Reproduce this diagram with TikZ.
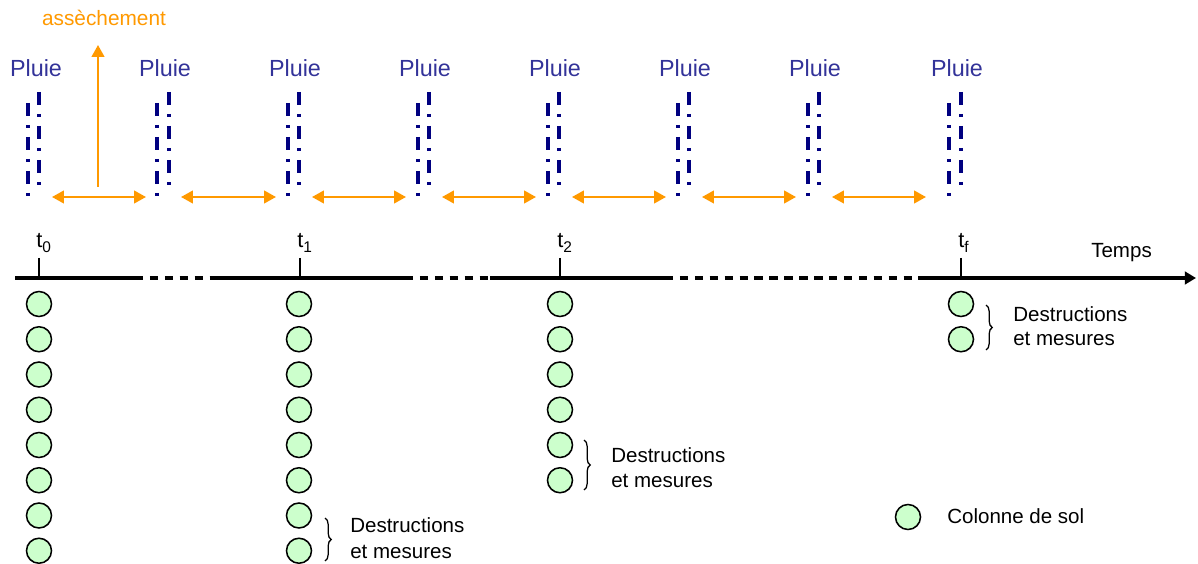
\documentclass[tikz,border=0pt]{standalone}
\usepackage{fontspec}
\setmainfont{Liberation Sans}
\usetikzlibrary{arrows.meta,decorations.pathreplacing}
\definecolor{pluieblue}{HTML}{333399}
\definecolor{rainnavy}{HTML}{000080}
\definecolor{dryorange}{HTML}{FF9900}
\definecolor{soilgreen}{HTML}{CCFFCC}
\begin{document}
\begin{tikzpicture}[x=0.025cm,y=-0.025cm,
  txt/.style={font=\fontsize{14.6}{17}\selectfont, inner sep=0, anchor=base west},
  pluielabel/.style={text=pluieblue, font=\fontsize{16.6}{20}\selectfont, inner sep=0, anchor=base},
  rain/.style={draw=rainnavy, line width=2.3pt},
  dryarrow/.style={draw=dryorange, line width=1.5pt, {Triangle[length=8.5pt,width=9pt]}-{Triangle[length=8.5pt,width=9pt]}},
  dryup/.style={draw=dryorange, line width=1.5pt, -{Triangle[length=8.5pt,width=9pt]}},
  axis/.style={line width=2.8pt},
  axisdash/.style={line width=2.6pt, dash pattern=on 6pt off 4.6pt},
  tick/.style={line width=1pt},
  soil/.style={circle, draw=black, fill=soilgreen, line width=1.1pt, minimum size=0.625cm, inner sep=0},
  brace/.style={decorate, decoration={brace, amplitude=4.5pt}, line width=0.9pt}]
\useasboundingbox (0,0) rectangle (1198,564);

% assèchement
\node[text=dryorange, font=\fontsize{14.8}{17}\selectfont, inner sep=0, anchor=base] (asse) at (104,26) {assèchement};
\coordinate (upstart) at (98,187);
\coordinate (uptip) at (98,45);
\draw[dryup] (upstart) -- (uptip);

% Pluie labels and rain lines (dash-dot, drawn piece by piece)
\foreach \i/\xl/\xr/\xt in {1/28/39/36, 2/157/169/165, 3/288/299/295, 4/418/429/425, 5/548/559/555, 6/678/689/685, 7/808/819/815, 8/949/961/957} {
  \node[pluielabel] (pluie\i) at (\xt,77) {Pluie};
  \foreach \k in {0,1,2} {
    \draw[rain] (\xr,{92+34*\k}) -- (\xr,{105+34*\k});
    \draw[rain] (\xr,{114+34*\k}) -- (\xr,{117+34*\k});
    \draw[rain] (\xl,{103+34*\k}) -- (\xl,{116+34*\k});
    \draw[rain] (\xl,{125+34*\k}) -- (\xl,{128+34*\k});
  }
}

% dry periods
\foreach \i/\xa/\xb in {1/52/146, 2/181/276, 3/312/406, 4/442/536, 5/572/666, 6/702/796, 7/832/926} {
  \coordinate (da\i) at (\xa,197);
  \coordinate (db\i) at (\xb,197);
  \draw[dryarrow] (da\i) -- (db\i);
}

% time axis
\coordinate (ax0) at (15,278);
\coordinate (ax1) at (135,278);
\coordinate (ax2) at (211,278);
\coordinate (ax3) at (405,278);
\coordinate (ax4) at (490,278);
\coordinate (ax5) at (665,278);
\coordinate (ax6) at (927,278);
\coordinate (ax7) at (1196,278);
\draw[axis] (ax0) -- (ax1);
\draw[axisdash] (ax1) -- (ax2);
\draw[axis] (ax2) -- (ax3);
\draw[axisdash] (ax3) -- (ax4);
\draw[axis] (ax4) -- (ax5);
\draw[axisdash] (ax5) -- (ax6);
\draw[axis, -{Triangle[length=8pt,width=9pt]}] (ax6) -- (ax7);
\node[txt] (temps) at (1091,258) {Temps};

% ticks and labels
\foreach \n/\x/\s in {0/39/0, 1/300/1, 2/560/2, f/961/f} {
  \coordinate (tk\n a) at (\x,258);
  \coordinate (tk\n b) at (\x,278);
  \draw[tick] (tk\n a) -- (tk\n b);
  \node[txt, font=\fontsize{15.5}{18}\selectfont] (lab\n) at (\x-3,248) {t\raisebox{-0.35ex}{\fontsize{11}{12}\selectfont\s}};
}

% soil columns
\foreach \x/\n/\k in {39/a/8, 299/b/8, 560/c/6, 961/d/2} {
  \foreach \i in {1,...,\k} {
    \node[soil] (\n\i) at (\x,{304+35.25*(\i-1)}) {};
  }
}

% destructions
\draw[brace] (325,518) -- (325,561);
\node[txt] (db1) at (350,532) {Destructions};
\node[txt] (db2) at (350,558) {et mesures};
\draw[brace] (584,440) -- (584,490);
\node[txt] (dc1) at (611,462) {Destructions};
\node[txt] (dc2) at (611,487) {et mesures};
\draw[brace] (986,305) -- (986,350);
\node[txt] (dd1) at (1013,321) {Destructions};
\node[txt] (dd2) at (1013,345) {et mesures};

% legend
\node[soil] (leg) at (908,517) {};
\node[txt] (legt) at (947,523) {Colonne de sol};
\end{tikzpicture}
\end{document}
